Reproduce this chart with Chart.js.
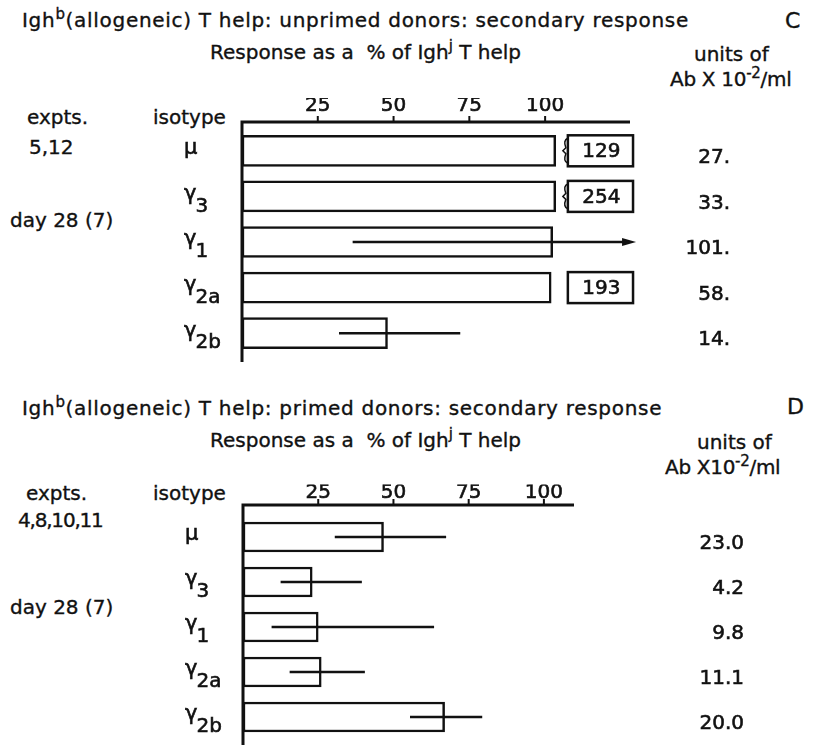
<!DOCTYPE html>
<html>
<head>
<meta charset="utf-8">
<script src="https://cdn.jsdelivr.net/npm/chart.js@4/dist/chart.umd.min.js"></script>
<style>
  body { margin: 0; background: #fff; }
  #wrap { position: relative; width: 817px; height: 745px; overflow: hidden;
          font-family: "DejaVu Sans", sans-serif; color: #111; }
  .t { position: absolute; font-size: 20px; line-height: 1; white-space: nowrap;
       -webkit-text-stroke: 0.35px #111; }
  .t sup { font-size: 15px; vertical-align: 8px; line-height: 0; }
  .title { letter-spacing: 0.7px; }
  canvas { position: absolute; left: 0; }
</style>
</head>
<body>
<div id="wrap">
  <!-- panel C -->
  <div class="t title" style="left:22px;top:10px">Igh<sup>b</sup>(allogeneic) T help: unprimed donors: secondary response</div>
  <div class="t" style="left:785px;top:10px;font-size:22px">C</div>
  <div class="t" style="left:210px;top:42px">Response as a&nbsp; % of Igh<sup>j</sup> T help</div>
  <div class="t" style="left:694px;top:44px">units of</div>
  <div class="t" style="left:670px;top:69px;letter-spacing:-0.3px">Ab X 10<sup>-2</sup>/ml</div>
  <div class="t" style="left:27px;top:107px">expts.</div>
  <div class="t" style="left:153px;top:107px">isotype</div>
  <div class="t" style="left:29px;top:137px">5,12</div>
  <div class="t" style="left:10px;top:210px">day 28 (7)</div>
  <canvas id="chartC" width="817" height="380" style="top:0"></canvas>

  <!-- panel D -->
  <div class="t title" style="left:22px;top:398px">Igh<sup>b</sup>(allogeneic) T help: primed donors: secondary response</div>
  <div class="t" style="left:787px;top:396px;font-size:22px">D</div>
  <div class="t" style="left:210px;top:430px">Response as a&nbsp; % of Igh<sup>j</sup> T help</div>
  <div class="t" style="left:697px;top:432px">units of</div>
  <div class="t" style="left:665px;top:457px;letter-spacing:-0.3px">Ab X10<sup>-2</sup>/ml</div>
  <div class="t" style="left:26px;top:483px">expts.</div>
  <div class="t" style="left:153px;top:483px">isotype</div>
  <div class="t" style="left:18px;top:510px;letter-spacing:-1.2px">4,8,10,11</div>
  <div class="t" style="left:10px;top:597px">day 28 (7)</div>
  <canvas id="chartD" width="817" height="365" style="top:380px"></canvas>
</div>
<script>
const isotypes = ['μ', 'γ3', 'γ1', 'γ2a', 'γ2b'];
const xTicks = [25, 50, 75, 100];

// C: unprimed donors
const pctC = [103.5, 103.5, 102.5, 102, 48];
const errLoC = [null, null, 36.5, null, 32];
const errHiC = [null, null, 130, null, 72];
const arrowC = [false, false, true, false, false];
const boxC = ['129', '254', null, '193', null];
const braceC = [true, true, false, false, false];
const unitsC = ['27.', '33.', '101.', '58.', '14.'];

// D: primed donors
const pctD = [46.7, 23, 25, 26, 67];
const errLoD = [30.5, 12.5, 9.5, 15.5, 55.5];
const errHiD = [67.5, 39.5, 63.5, 40.5, 79.5];
const unitsD = ['23.0', '4.2', '9.8', '11.1', '20.0'];

const FONT = '"DejaVu Sans", sans-serif';
const INK = '#111';

// fill + thin stroke, to get the heavier print look
function ink(ctx, txt, x, y) {
  ctx.fillText(txt, x, y);
  ctx.lineWidth = 0.6;
  ctx.strokeText(txt, x, y);
}

const panelPlugin = {
  id: 'panel',
  afterDatasetsDraw(chart, args, o) {
    const ctx = chart.ctx;
    const x = chart.scales.x, y = chart.scales.y;
    const area = chart.chartArea;
    const bars = chart.getDatasetMeta(0).data;
    const x0 = x.getPixelForValue(0);
    const top = area.top - o.axisGap;
    ctx.save();
    ctx.strokeStyle = INK;
    ctx.fillStyle = INK;

    // axis frame
    ctx.lineWidth = 3;
    ctx.beginPath();
    ctx.moveTo(x0 - 1.5, top);
    ctx.lineTo(x.getPixelForValue(x.max), top);
    ctx.moveTo(x0, top);
    ctx.lineTo(x0, area.bottom + o.axisTail);
    ctx.stroke();
    ctx.lineWidth = 2;
    x.ticks.forEach(t => {
      const px = x.getPixelForValue(t.value);
      ctx.beginPath();
      ctx.moveTo(px, top - 6);
      ctx.lineTo(px, top);
      ctx.stroke();
    });

    // error ranges
    ctx.lineWidth = 2.5;
    o.lo.forEach((lo, i) => {
      if (lo == null) return;
      const yy = y.getPixelForValue(i);
      const a = x.getPixelForValue(lo), b = x.getPixelForValue(o.hi[i]);
      ctx.beginPath();
      ctx.moveTo(a, yy);
      ctx.lineTo(o.arrow[i] ? b - 8 : b, yy);
      ctx.stroke();
      if (o.arrow[i]) {
        ctx.beginPath();
        ctx.moveTo(b, yy);
        ctx.lineTo(b - 14, yy - 4);
        ctx.lineTo(b - 14, yy + 4);
        ctx.closePath();
        ctx.fill();
      }
    });

    // boxed off-scale values
    ctx.font = '20px ' + FONT;
    ctx.textAlign = 'center';
    ctx.textBaseline = 'middle';
    (o.boxes || []).forEach((txt, i) => {
      if (!txt) return;
      const el = bars[i];
      const l = x.getPixelForValue(o.boxFrom), r = x.getPixelForValue(o.boxTo);
      const t = el.y - el.height / 2, h = el.height;
      ctx.lineWidth = 2.5;
      ctx.strokeRect(l, t, r - l, h);
      if (o.brace && o.brace[i]) {
        ctx.lineWidth = 1.5;
        ctx.beginPath();
        ctx.moveTo(l, t + 3);
        ctx.quadraticCurveTo(l - 5, t + 5, l - 2, el.y - 3);
        ctx.lineTo(l - 5, el.y);
        ctx.lineTo(l - 2, el.y + 3);
        ctx.quadraticCurveTo(l - 5, t + h - 5, l, t + h - 3);
        ctx.stroke();
      }
      ink(ctx, txt, (l + r) / 2 + 1, el.y + 1);
    });

    // isotype labels with subscripts
    isotypes.forEach((lab, i) => {
      const yy = y.getPixelForValue(i);
      const base = lab[0], sub = lab.slice(1);
      ctx.textAlign = 'left';
      ctx.textBaseline = 'middle';
      ctx.font = '21px ' + FONT;
      const bx = x0 - 58;
      ink(ctx, base, bx, yy - 2);
      if (sub) {
        const w = ctx.measureText(base).width;
        ctx.font = '20px ' + FONT;
        ink(ctx, sub, bx + w - 1, yy + 10);
      }
    });

    // antibody units column
    ctx.font = '20px ' + FONT;
    ctx.textAlign = 'right';
    o.units.forEach((u, i) => {
      ink(ctx, u, o.unitsX, y.getPixelForValue(i) + 7);
    });
    ctx.restore();
  }
};

function makePanel(id, values, max, thickness, padding, extra) {
  return new Chart(document.getElementById(id), {
    type: 'bar',
    data: {
      labels: isotypes,
      datasets: [{
        data: values,
        backgroundColor: '#fff',
        borderColor: INK,
        borderWidth: 2.5,
        borderSkipped: false,
        barThickness: thickness
      }]
    },
    options: {
      indexAxis: 'y',
      responsive: false,
      animation: false,
      layout: { padding: padding },
      scales: {
        x: {
          type: 'linear',
          position: 'top',
          min: 0,
          max: max,
          afterBuildTicks: s => { s.ticks = xTicks.map(v => ({ value: v })); },
          afterFit: s => { s.height = 30; },
          grid: { display: false, drawTicks: false },
          border: { display: false },
          ticks: {
            color: INK, padding: 10,
            textStrokeColor: INK, textStrokeWidth: 0.6,
            font: { family: FONT, size: 20 }
          }
        },
        y: { type: 'category', display: false }
      },
      plugins: {
        legend: { display: false },
        tooltip: { enabled: false },
        panel: extra
      }
    },
    plugins: [panelPlugin]
  });
}

makePanel('chartC', pctC, 128, 31,
  { left: 242, right: 187, top: 98, bottom: 24 },
  { axisGap: 6, axisTail: 6, lo: errLoC, hi: errHiC, arrow: arrowC,
    boxes: boxC, brace: braceC, boxFrom: 107.5, boxTo: 129,
    units: unitsC, unitsX: 730 });

makePanel('chartD', pctD, 110, 30,
  { left: 243, right: 243, top: 104.5, bottom: 5.5 },
  { axisGap: 9.5, axisTail: 10, lo: errLoD, hi: errHiD,
    arrow: [false, false, false, false, false],
    units: unitsD, unitsX: 744 });
</script>
</body>
</html>
